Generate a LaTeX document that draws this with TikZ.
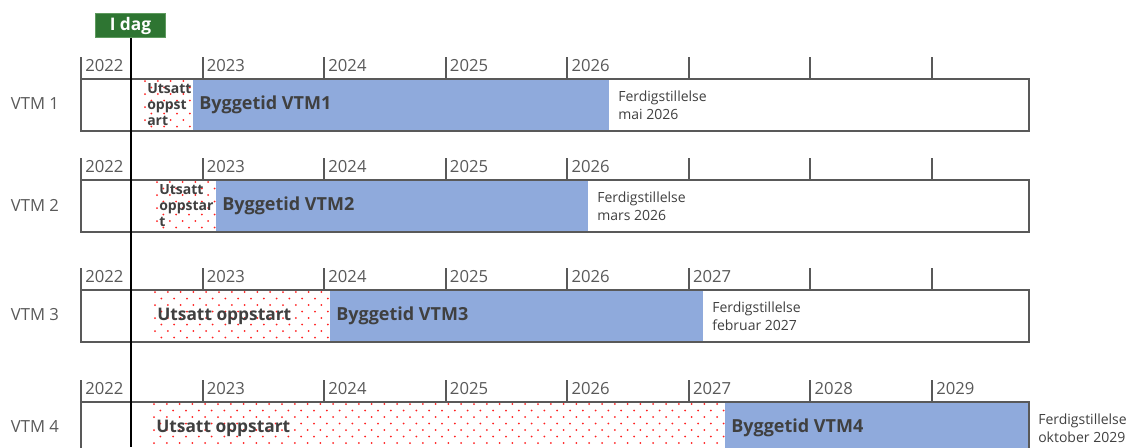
\documentclass[tikz,border=0pt]{standalone}
\usepackage{fontspec}
\setmainfont{Open Sans}
\definecolor{rammegra}{HTML}{595959}
\definecolor{tekstgra}{HTML}{404040}
\definecolor{byggbla}{HTML}{8FAADC}
\definecolor{idaggronn}{HTML}{2E7532}
\definecolor{idagkant}{HTML}{5E9A5E}
\definecolor{prikkrod}{HTML}{FF2020}

\tikzset{
  ramme/.style={draw=rammegra,line width=1.5pt},
  aarstall/.style={anchor=west,inner sep=0pt,text=rammegra,font=\fontsize{12.5}{14}\selectfont},
  radnavn/.style={inner sep=0pt,text=rammegra,font=\fontsize{12.5}{14}\selectfont},
  byggtekst/.style={anchor=west,inner sep=0pt,text=tekstgra,font=\fontsize{13.5}{15}\selectfont\bfseries},
  utsattliten/.style={anchor=west,inner sep=0pt,align=left,text=tekstgra,font=\fontsize{10.5}{12}\selectfont\bfseries},
  utsattstor/.style={anchor=west,inner sep=0pt,text=tekstgra,font=\fontsize{13}{15}\selectfont\bfseries},
  ferdigtekst/.style={anchor=west,inner sep=0pt,align=left,text=tekstgra,font=\fontsize{10.5}{13.5}\selectfont},
}

\begin{document}
\begin{tikzpicture}[x=0.75pt,y=-0.75pt]
\useasboundingbox (0,0) rectangle (1130,447);
\clip (0,0) rectangle (1130,447);
% en rad per VTM
\foreach \rad/\topp/\ustart/\bstart/\bslutt/\sist/\ferdig/\utekst/\ufont in
  {1/57/143/193/609/2026/mai 2026/{Utsatt\\oppst\\art}/utsattliten,
   2/158/155/216/588/2026/mars 2026/{Utsatt\\oppstar\\t}/utsattliten,
   3/268/153/330/703/2027/februar 2027/{Utsatt oppstart}/utsattstor,
   4/380/152/725/1029/2029/oktober 2029/{Utsatt oppstart}/utsattstor}{
 \fill[white] (81,\topp+22) rectangle (1029,\topp+74);
 % prikker for utsatt oppstart
 \begin{scope}
  \clip (\ustart,\topp+22) rectangle (\bstart,\topp+74);
  \foreach \py in {0,...,8}{
   \foreach \px in {0,...,46}{
    \fill[prikkrod] ({\ustart+2+\px*12.8+mod(\py,2)*6.4},{\topp+24+\py*6.5}) circle (0.75pt);}}
 \end{scope}
 \fill[byggbla] (\bstart,\topp+22) rectangle (\bslutt,\topp+74);
 \draw[ramme] (81,\topp+22) rectangle (1029,\topp+74);
 \foreach \aar [count=\i from 0] in {2022,...,2029}{
  \draw[ramme] (81+\i*121.57,\topp) -- (81+\i*121.57,\topp+22);
  \ifnum\aar>\sist\else
   \node[aarstall] (aar\rad-\aar) at (85+\i*121.57,\topp+9) {\aar};
  \fi}
 \node[radnavn] (vtm\rad) at (35,\topp+47) {VTM \rad};
 \node[\ufont] (utsatt\rad) at (\ustart+4,\topp+48) {\utekst};
 \node[byggtekst] (bygg\rad) at (\bstart+6,\topp+48) {Byggetid VTM\rad};
 \node[ferdigtekst] (ferdig\rad) at (\bslutt+9,\topp+48) {Ferdigstillelse\\\ferdig};
}
% i dag
\node[fill=idaggronn,draw=idagkant,line width=0.6pt,text=white,minimum width=53pt,minimum height=18.5pt,inner sep=0pt,font=\fontsize{13}{15}\selectfont\bfseries] (idag) at (130.5,25.5) {I dag};
\coordinate (idagbunn) at (130.5,447);
\draw[black,line width=1.5pt] (idag.south) -- (idagbunn);
\end{tikzpicture}
\end{document}
